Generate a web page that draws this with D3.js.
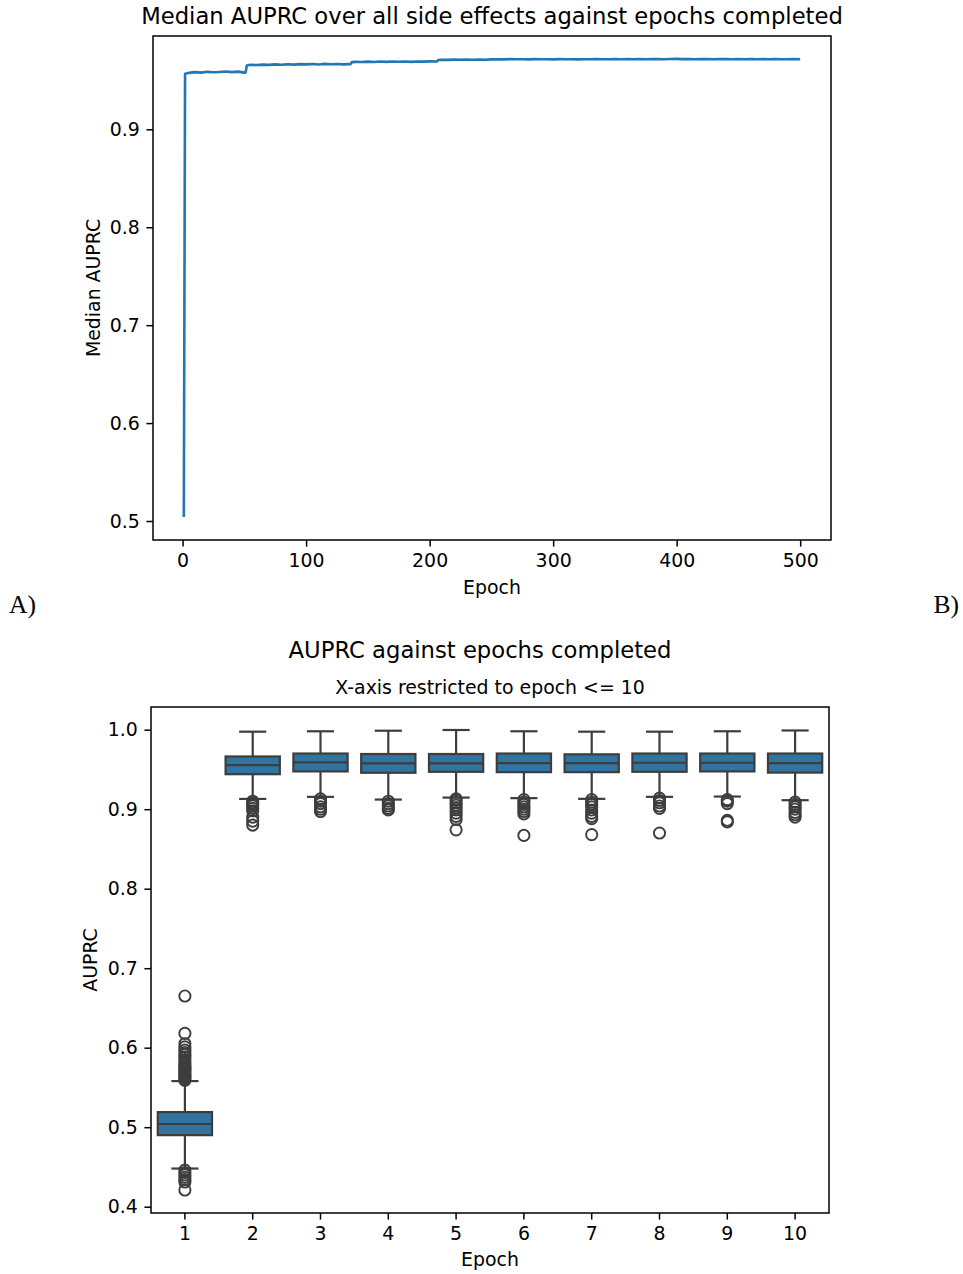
<!DOCTYPE html>
<html>
<head>
<meta charset="utf-8">
<script src="https://cdn.jsdelivr.net/npm/d3@7"></script>
<style>
  body { margin: 0; background: #fff; }
  svg text { font-family: "DejaVu Sans", sans-serif; fill: #000; }
</style>
</head>
<body>
<div id="chart"></div>
<script>
// ---- data: median AUPRC per epoch ----
let lineEpochs = [1, 2, 5, 10, 15, 20, 25, 30, 35, 40, 45, 50, 51,
  52, 55, 60, 65, 70, 75, 80, 85, 90, 95, 100, 105, 110, 115, 120, 125, 130, 135, 136,
  137, 140, 145, 150, 155, 160, 165, 170, 175, 180, 185, 190, 195, 200, 205, 206,
  207, 210, 215, 220, 225, 230, 235, 240, 245, 250, 255, 260, 265, 270, 275, 280, 285, 290, 295,
  300, 305, 310, 315, 320, 325, 330, 335, 340, 345, 350, 355, 360, 365, 370, 375, 380, 385, 390, 395,
  400, 405, 410, 415, 420, 425, 430, 435, 440, 445, 450, 455, 460, 465, 470, 475, 480, 485, 490, 495, 500]
let lineMedians = [0.504, 0.9568, 0.9576, 0.9584, 0.9579, 0.9587, 0.9582, 0.9586, 0.9591, 0.9584, 0.9589, 0.9579, 0.9581,
  0.9652, 0.9659, 0.9656, 0.9661, 0.9658, 0.9663, 0.9660, 0.9665, 0.9661, 0.9666, 0.9663, 0.9667, 0.9662, 0.9668, 0.9664, 0.9667, 0.9663, 0.9666, 0.9665,
  0.9686, 0.9689, 0.9687, 0.9691, 0.9688, 0.9692, 0.9689, 0.9693, 0.9690, 0.9692, 0.9689, 0.9693, 0.9691, 0.9694, 0.9692, 0.9693,
  0.9708, 0.9711, 0.9709, 0.9712, 0.9710, 0.9713, 0.9711, 0.9712, 0.9710, 0.9714, 0.9716, 0.9714, 0.9717, 0.9715, 0.9716, 0.9714, 0.9717, 0.9715, 0.9716,
  0.9714, 0.9717, 0.9715, 0.9716, 0.9714, 0.9716, 0.9715, 0.9717, 0.9715, 0.9716, 0.9718, 0.9716, 0.9717, 0.9715, 0.9717, 0.9716, 0.9718, 0.9717, 0.9716, 0.9718,
  0.9719, 0.9717, 0.9718, 0.9716, 0.9718, 0.9717, 0.9716, 0.9718, 0.9717, 0.9715, 0.9717, 0.9716, 0.9718, 0.9716, 0.9717, 0.9715, 0.9717, 0.9716, 0.9715, 0.9717, 0.9716]

// ---- data: AUPRC distribution for epochs 1..10 ----
let boxEpochs = ["1", "2", "3", "4", "5", "6", "7", "8", "9", "10"]
let q1 = [0.490, 0.944, 0.9475, 0.9458, 0.947, 0.9466, 0.9466, 0.947, 0.9475, 0.946]
let medians = [0.504, 0.9555, 0.9588, 0.9575, 0.9575, 0.958, 0.958, 0.9584, 0.9584, 0.958]
let q3 = [0.519, 0.9663, 0.970, 0.9694, 0.9694, 0.970, 0.969, 0.970, 0.970, 0.970]
let whiskerLow = [0.448, 0.9129, 0.9155, 0.9121, 0.9146, 0.9139, 0.913, 0.9155, 0.9159, 0.9113]
let whiskerHigh = [0.558, 0.9975, 0.998, 0.9987, 0.9996, 0.998, 0.9975, 0.9975, 0.998, 0.999]
let outliers = [
  [0.559, 0.561, 0.563, 0.565, 0.567, 0.569, 0.571, 0.573, 0.575, 0.577, 0.579, 0.582, 0.585, 0.588, 0.591, 0.594, 0.597, 0.601, 0.605, 0.618, 0.665,
   0.446, 0.443, 0.440, 0.437, 0.434, 0.431, 0.421],
  [0.910, 0.908, 0.906, 0.904, 0.901, 0.898, 0.890, 0.885, 0.880],
  [0.913, 0.910, 0.907, 0.903, 0.900, 0.897],
  [0.910, 0.907, 0.904, 0.901, 0.899],
  [0.913, 0.911, 0.908, 0.905, 0.902, 0.899, 0.895, 0.891, 0.887, 0.874],
  [0.912, 0.909, 0.906, 0.903, 0.900, 0.897, 0.894, 0.867],
  [0.912, 0.909, 0.906, 0.903, 0.899, 0.895, 0.891, 0.888, 0.868],
  [0.914, 0.911, 0.908, 0.904, 0.901, 0.870],
  [0.912, 0.910, 0.907, 0.886, 0.884],
  [0.909, 0.906, 0.903, 0.900, 0.896, 0.893, 0.890]
]
let topYTicks = [0.5, 0.6, 0.7, 0.8, 0.9]
let topXTicks = [0, 100, 200, 300, 400, 500]
let bottomYTicks = [0.4, 0.5, 0.6, 0.7, 0.8, 0.9, 1.0]

let svgWidth = 963, svgHeight = 1274
let tickFont = 18.9, titleFont = 22.7
let tickLen = 6.6, tickPad = 6.6

let svg = d3.select("#chart")
  .append("svg")
  .attr("width", svgWidth)
  .attr("height", svgHeight)

svg.append("rect").attr("width", svgWidth).attr("height", svgHeight).attr("fill", "#fff")

// matplotlib style 5% padding on a numeric extent
function padded(ext) {
  let d = (ext[1] - ext[0]) * 0.05
  return [ext[0] - d, ext[1] + d]
}

function styleAxis(g) {
  g.select(".domain").remove()
  g.selectAll(".tick line").attr("stroke", "#000").attr("stroke-width", 1.5)
  g.selectAll(".tick text").attr("font-size", tickFont).attr("font-family", "DejaVu Sans").attr("fill", "#000")
}

// ================= top panel: line chart =================
let topPanel = { left: 153, right: 831, top: 36, bottom: 540 }

let xTop = d3.scaleLinear()
  .domain(padded(d3.extent(lineEpochs)))
  .range([topPanel.left, topPanel.right])
let yTop = d3.scaleLinear()
  .domain(padded(d3.extent(lineMedians)))
  .range([topPanel.bottom, topPanel.top])

svg.append("g")
  .attr("transform", `translate(0, ${topPanel.bottom})`)
  .call(d3.axisBottom(xTop).tickValues(topXTicks).tickSize(tickLen).tickPadding(tickPad).tickFormat(d3.format("d")))
  .call(styleAxis)

svg.append("g")
  .attr("transform", `translate(${topPanel.left}, 0)`)
  .call(d3.axisLeft(yTop).tickValues(topYTicks).tickSize(tickLen).tickPadding(tickPad).tickFormat(d3.format(".1f")))
  .call(styleAxis)

let lineData = lineEpochs.map((e, i) => [e, lineMedians[i]])
svg.append("path")
  .datum(lineData)
  .attr("fill", "none")
  .attr("stroke", "#1f77b4")
  .attr("stroke-width", 2.6)
  .attr("stroke-linejoin", "round")
  .attr("d", d3.line().x(d => xTop(d[0])).y(d => yTop(d[1])))

svg.append("rect")
  .attr("x", topPanel.left).attr("y", topPanel.top)
  .attr("width", topPanel.right - topPanel.left).attr("height", topPanel.bottom - topPanel.top)
  .attr("fill", "none").attr("stroke", "#000").attr("stroke-width", 1.5)

svg.append("text")
  .attr("x", (topPanel.left + topPanel.right) / 2).attr("y", 24)
  .attr("text-anchor", "middle").attr("font-size", titleFont)
  .text("Median AUPRC over all side effects against epochs completed")

svg.append("text")
  .attr("x", (topPanel.left + topPanel.right) / 2).attr("y", 594)
  .attr("text-anchor", "middle").attr("font-size", tickFont)
  .text("Epoch")

svg.append("text")
  .attr("transform", `translate(100, ${(topPanel.top + topPanel.bottom) / 2}) rotate(-90)`)
  .attr("text-anchor", "middle").attr("font-size", tickFont)
  .text("Median AUPRC")

// panel letters
svg.append("text")
  .attr("x", 9).attr("y", 613)
  .style("font-family", "'Liberation Serif', serif").attr("font-size", 25.5)
  .text("A)")
svg.append("text")
  .attr("x", 959).attr("y", 613).attr("text-anchor", "end")
  .style("font-family", "'Liberation Serif', serif").attr("font-size", 25.5)
  .text("B)")

// ================= bottom panel: box plots =================
let botPanel = { left: 151, right: 829, top: 707, bottom: 1213 }

let allValues = [].concat(whiskerLow, whiskerHigh, ...outliers)
let xBot = d3.scaleBand()
  .domain(boxEpochs)
  .range([botPanel.left, botPanel.right])
  .padding(0)
let yBot = d3.scaleLinear()
  .domain(padded(d3.extent(allValues)))
  .range([botPanel.bottom, botPanel.top])

svg.append("g")
  .attr("transform", `translate(0, ${botPanel.bottom})`)
  .call(d3.axisBottom(xBot).tickSize(tickLen).tickPadding(tickPad))
  .call(styleAxis)

svg.append("g")
  .attr("transform", `translate(${botPanel.left}, 0)`)
  .call(d3.axisLeft(yBot).tickValues(bottomYTicks).tickSize(tickLen).tickPadding(tickPad).tickFormat(d3.format(".1f")))
  .call(styleAxis)

let boxColor = "#3274a1", edgeColor = "#3d3d3d"
let boxW = xBot.bandwidth() * 0.8
let boxData = boxEpochs.map((e, i) => ({
  epoch: e, q1: q1[i], med: medians[i], q3: q3[i],
  lo: whiskerLow[i], hi: whiskerHigh[i], out: outliers[i]
}))

let boxes = svg.append("g").selectAll("g")
  .data(boxData)
  .enter()
  .append("g")
  .attr("transform", d => `translate(${xBot(d.epoch) + xBot.bandwidth() / 2}, 0)`)

// whiskers
boxes.append("line")
  .attr("x1", 0).attr("x2", 0)
  .attr("y1", d => yBot(d.hi)).attr("y2", d => yBot(d.q3))
  .attr("stroke", edgeColor).attr("stroke-width", 2.2)
boxes.append("line")
  .attr("x1", 0).attr("x2", 0)
  .attr("y1", d => yBot(d.q1)).attr("y2", d => yBot(d.lo))
  .attr("stroke", edgeColor).attr("stroke-width", 2.2)
// caps
boxes.append("line")
  .attr("x1", -boxW / 4).attr("x2", boxW / 4)
  .attr("y1", d => yBot(d.hi)).attr("y2", d => yBot(d.hi))
  .attr("stroke", edgeColor).attr("stroke-width", 2.2)
boxes.append("line")
  .attr("x1", -boxW / 4).attr("x2", boxW / 4)
  .attr("y1", d => yBot(d.lo)).attr("y2", d => yBot(d.lo))
  .attr("stroke", edgeColor).attr("stroke-width", 2.2)
// box
boxes.append("rect")
  .attr("x", -boxW / 2).attr("width", boxW)
  .attr("y", d => yBot(d.q3))
  .attr("height", d => yBot(d.q1) - yBot(d.q3))
  .attr("fill", boxColor).attr("stroke", edgeColor).attr("stroke-width", 2.2)
// median
boxes.append("line")
  .attr("x1", -boxW / 2).attr("x2", boxW / 2)
  .attr("y1", d => yBot(d.med)).attr("y2", d => yBot(d.med))
  .attr("stroke", edgeColor).attr("stroke-width", 2.2)
// fliers
boxes.selectAll("circle")
  .data(d => d.out)
  .enter()
  .append("circle")
  .attr("cx", 0)
  .attr("cy", v => yBot(v))
  .attr("r", 5.6)
  .attr("fill", "none")
  .attr("stroke", edgeColor)
  .attr("stroke-width", 1.9)

svg.append("rect")
  .attr("x", botPanel.left).attr("y", botPanel.top)
  .attr("width", botPanel.right - botPanel.left).attr("height", botPanel.bottom - botPanel.top)
  .attr("fill", "none").attr("stroke", "#000").attr("stroke-width", 1.5)

// figure-level title sits at the page centre, subtitle at the axes centre
svg.append("text")
  .attr("x", 480).attr("y", 658)
  .attr("text-anchor", "middle").attr("font-size", titleFont)
  .text("AUPRC against epochs completed")

svg.append("text")
  .attr("x", (botPanel.left + botPanel.right) / 2).attr("y", 694)
  .attr("text-anchor", "middle").attr("font-size", tickFont)
  .text("X-axis restricted to epoch <= 10")

svg.append("text")
  .attr("x", (botPanel.left + botPanel.right) / 2).attr("y", 1266)
  .attr("text-anchor", "middle").attr("font-size", tickFont)
  .text("Epoch")

svg.append("text")
  .attr("transform", `translate(97, ${(botPanel.top + botPanel.bottom) / 2}) rotate(-90)`)
  .attr("text-anchor", "middle").attr("font-size", tickFont)
  .text("AUPRC")
</script>
</body>
</html>
